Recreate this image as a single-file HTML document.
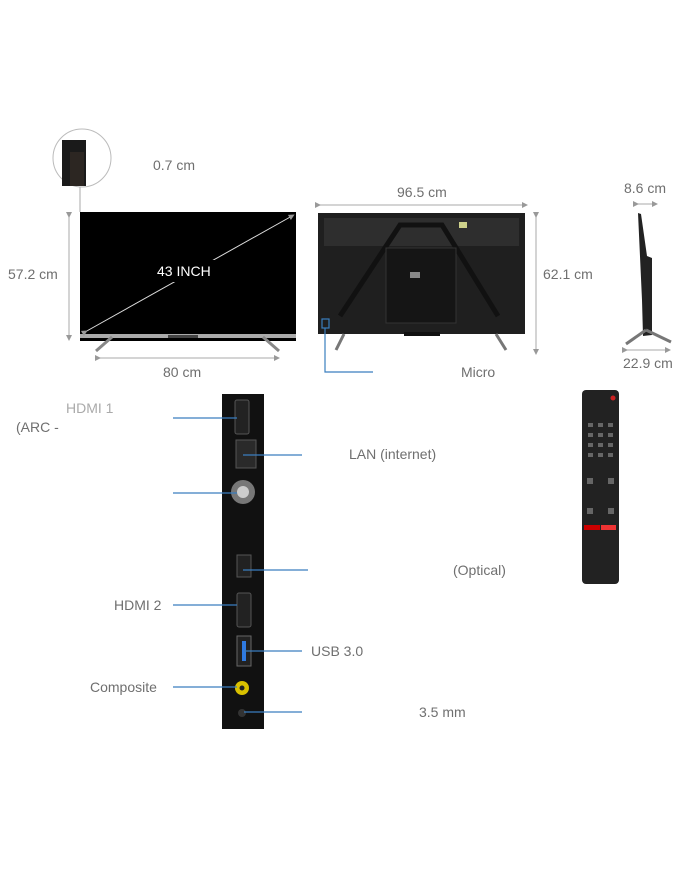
<!DOCTYPE html>
<html><head><style>
body{margin:0;background:#fff;width:700px;height:869px;overflow:hidden;font-family:"Liberation Sans",sans-serif}
.t{position:absolute;color:#6f6f6f;font-size:14px;white-space:nowrap}
</style></head><body>
<svg width="700" height="869" style="position:absolute;left:0;top:0">
<defs><marker id="a" markerWidth="6" markerHeight="6" refX="3" refY="3" orient="auto"><path d="M0,0L6,3L0,6z" fill="#999"/></marker></defs>
<circle cx="82" cy="158" r="29" fill="#fff" stroke="#bbb"/>
<rect x="62" y="140" width="24" height="46" fill="#1a1a1a"/>
<rect x="70" y="152" width="14" height="34" fill="#2c2622"/>
<line x1="80" y1="187" x2="80" y2="212" stroke="#aaa"/>
<line x1="69" y1="215" x2="69" y2="338" stroke="#aaa" marker-start="url(#a)" marker-end="url(#a)"/>
<rect x="80" y="212" width="216" height="129" fill="#000"/>
<rect x="80" y="334" width="216" height="4" fill="#aaa"/>
<rect x="168" y="335" width="30" height="3" fill="#444"/>
<line x1="112" y1="337" x2="96" y2="351" stroke="#888" stroke-width="3"/>
<line x1="263" y1="337" x2="279" y2="351" stroke="#888" stroke-width="3"/>
<line x1="85" y1="332" x2="292" y2="216" stroke="#ddd" stroke-width="1" marker-start="url(#a)" marker-end="url(#a)"/>
<rect x="150" y="260" width="70" height="22" fill="#000"/>
<line x1="98" y1="358" x2="277" y2="358" stroke="#aaa" marker-start="url(#a)" marker-end="url(#a)"/>
<line x1="318" y1="205" x2="525" y2="205" stroke="#aaa" marker-start="url(#a)" marker-end="url(#a)"/>
<rect x="318" y="213" width="207" height="121" fill="#1f1f1f"/>
<rect x="324" y="218" width="195" height="28" fill="#2e2e2e"/>
<path d="M340,316 L400,225 L442,225 L498,316" fill="none" stroke="#111" stroke-width="5"/>
<rect x="386" y="248" width="70" height="75" fill="#151515" stroke="#333"/>
<rect x="410" y="272" width="10" height="6" fill="#888"/>
<rect x="459" y="222" width="8" height="6" fill="#cdd08a"/>
<rect x="404" y="332" width="36" height="4" fill="#111"/>
<line x1="344" y1="334" x2="336" y2="350" stroke="#777" stroke-width="3"/>
<line x1="496" y1="334" x2="506" y2="350" stroke="#777" stroke-width="3"/>
<rect x="322" y="319" width="7" height="9" fill="none" stroke="#3a7ebf" stroke-width="1.2"/>
<polyline points="325,328 325,372 373,372" fill="none" stroke="#3a7ebf" stroke-width="1.2"/>
<line x1="536" y1="215" x2="536" y2="352" stroke="#aaa" marker-start="url(#a)" marker-end="url(#a)"/>
<line x1="636" y1="204" x2="655" y2="204" stroke="#aaa" marker-start="url(#a)" marker-end="url(#a)"/>
<path d="M638,213 L641,214 L647,256 L652,258 L652,335 L643,336 L642,300 Z" fill="#222"/>
<line x1="646" y1="330" x2="626" y2="344" stroke="#777" stroke-width="3"/>
<line x1="646" y1="330" x2="671" y2="342" stroke="#777" stroke-width="3"/>
<line x1="625" y1="350" x2="668" y2="350" stroke="#aaa" marker-start="url(#a)" marker-end="url(#a)"/>
<rect x="222" y="394" width="42" height="335" fill="#111"/>
<rect x="235" y="400" width="14" height="34" rx="2" fill="#222" stroke="#555"/>
<rect x="236" y="440" width="20" height="28" fill="#2a2a2a" stroke="#555"/>
<circle cx="243" cy="492" r="12" fill="#777"/><circle cx="243" cy="492" r="6" fill="#ccc"/>
<rect x="237" y="555" width="14" height="22" fill="#222" stroke="#555"/>
<rect x="237" y="593" width="14" height="34" rx="2" fill="#222" stroke="#555"/>
<rect x="237" y="636" width="14" height="30" fill="#222" stroke="#666"/><rect x="242" y="641" width="4" height="20" fill="#2f7ae0"/>
<circle cx="242" cy="688" r="7" fill="#d9c100"/><circle cx="242" cy="688" r="2.5" fill="#222"/>
<circle cx="242" cy="713" r="4" fill="#333"/>
<g stroke="#3a7ebf" stroke-width="1.2">
<line x1="173" y1="418" x2="237" y2="418"/><line x1="243" y1="455" x2="302" y2="455"/>
<line x1="173" y1="493" x2="237" y2="493"/><line x1="243" y1="570" x2="308" y2="570"/>
<line x1="173" y1="605" x2="237" y2="605"/><line x1="244" y1="651" x2="302" y2="651"/>
<line x1="173" y1="687" x2="237" y2="687"/><line x1="244" y1="712" x2="302" y2="712"/>
</g>
<rect x="582" y="390" width="37" height="194" rx="4" fill="#222"/>
<g fill="#666">
<rect x="588" y="423" width="5" height="4"/><rect x="598" y="423" width="5" height="4"/><rect x="608" y="423" width="5" height="4"/>
<rect x="588" y="433" width="5" height="4"/><rect x="598" y="433" width="5" height="4"/><rect x="608" y="433" width="5" height="4"/>
<rect x="588" y="443" width="5" height="4"/><rect x="598" y="443" width="5" height="4"/><rect x="608" y="443" width="5" height="4"/>
<rect x="588" y="453" width="5" height="4"/><rect x="598" y="453" width="5" height="4"/><rect x="608" y="453" width="5" height="4"/>
<rect x="587" y="478" width="6" height="6"/><rect x="608" y="478" width="6" height="6"/>
<rect x="587" y="508" width="6" height="6"/><rect x="608" y="508" width="6" height="6"/>
</g>
<rect x="584" y="525" width="16" height="5" fill="#c00"/><rect x="601" y="525" width="15" height="5" fill="#e33"/>
<circle cx="613" cy="398" r="2.5" fill="#c22"/>
</svg>
<div class="t" style="left:153px;top:157px">0.7 cm</div>
<div class="t" style="left:397px;top:184px">96.5 cm</div>
<div class="t" style="left:624px;top:180px">8.6 cm</div>
<div class="t" style="left:8px;top:266px">57.2 cm</div>
<div class="t" style="left:157px;top:263px;color:#fff">43 INCH</div>
<div class="t" style="left:543px;top:266px">62.1 cm</div>
<div class="t" style="left:623px;top:355px">22.9 cm</div>
<div class="t" style="left:163px;top:364px">80 cm</div>
<div class="t" style="left:461px;top:364px">Micro</div>
<div class="t" style="left:66px;top:400px;color:#aaa">HDMI 1</div>
<div class="t" style="left:16px;top:419px">(ARC -</div>
<div class="t" style="left:349px;top:446px">LAN (internet)</div>
<div class="t" style="left:453px;top:562px">(Optical)</div>
<div class="t" style="left:114px;top:597px">HDMI 2</div>
<div class="t" style="left:311px;top:643px">USB 3.0</div>
<div class="t" style="left:90px;top:679px">Composite</div>
<div class="t" style="left:419px;top:704px">3.5 mm</div>
</body></html>
